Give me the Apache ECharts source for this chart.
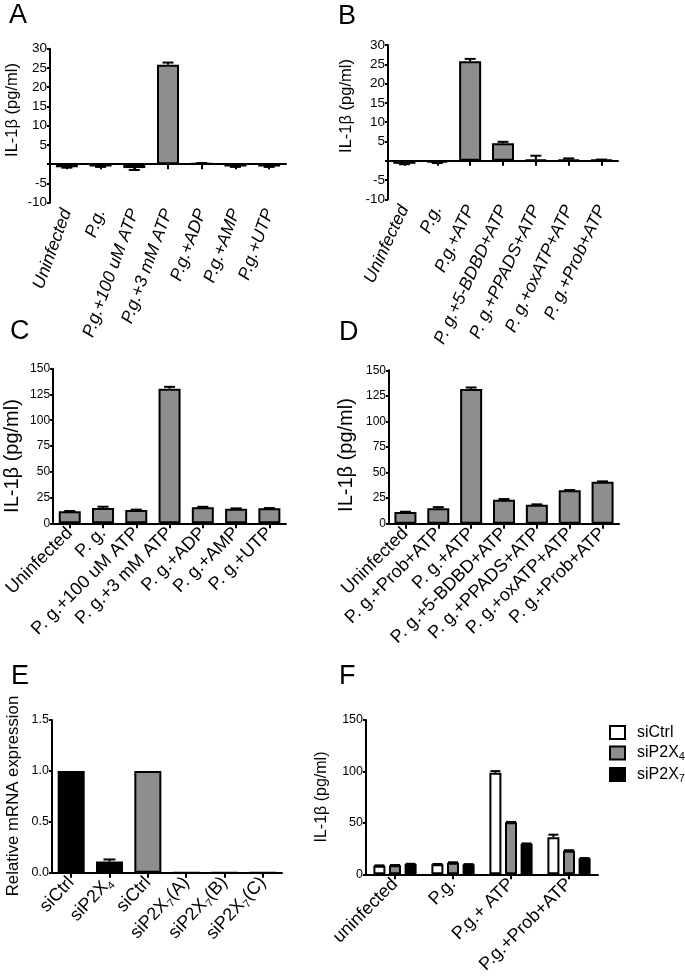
<!DOCTYPE html>
<html>
<head>
<meta charset="utf-8">
<script src="https://cdn.jsdelivr.net/npm/echarts@6/dist/echarts.min.js"></script>
<style>html,body{margin:0;padding:0;background:#fff;}#c{width:685px;height:978px;}</style>
</head>
<body>
<div id="c"></div>
<script>
// ---------- data ----------
const catsA = ['Uninfected','P.g.','P.g.+100 uM ATP','P.g.+3 mM ATP','P.g.+ADP','P.g.+AMP','P.g.+UTP'];
const valsA = [-0.8,-0.6,-1.0,25.8,0.2,-0.6,-0.6];
const errA  = [0.1,0.1,0.5,0.6,0.1,0.1,0.1];

const catsB = ['Uninfected','P.g.','P.g.+ATP','P. g.+5-BDBD+ATP','P. g.+PPADS+ATP','P. g.+oxATP+ATP','P. g.+Prob+ATP'];
const valsB = [-0.8,-0.5,25.8,4.5,0.3,0.3,0.2];
const errB  = [0.1,0.1,0.6,0.4,1.0,0.3,0.1];

const catsC = ['Uninfected','P. g.','P. g.+100 uM ATP','P. g.+3 mM ATP','P. g.+ADP','P. g.+AMP','P. g.+UTP'];
const valsC = [11.6,14.9,12.9,130.6,15.5,14.2,14.5];
const errC  = [0.3,1.2,0.4,1.8,0.5,0.3,0.3];

const catsD = ['Uninfected','P. g.+Prob+ATP','P. g.+ATP','P. g.+5-BDBD+ATP','P. g.+PPADS+ATP','P. g.+oxATP+ATP','P. g.+Prob+ATP'];
const valsD = [11.4,15.0,131.7,23.5,18.6,32.6,41.1];
const errD  = [0.3,1.2,1.5,0.6,0.3,0.3,0.3];

const catsE = ['siCtrl','siP2X4','siCtrl','siP2X7(A)','siP2X7(B)','siP2X7(C)'];
const valsE = [1.0,0.11,1.0,0,0,0];
const errE  = [0,0.02,0,0,0,0];

const catsF = ['uninfected','P.g.','P.g.+ ATP','P.g.+Prob+ATP'];
const seriesNamesF = ['siCtrl','siP2X4','siP2X7'];
const siCtrlF = [8.4,9.7,98.8,36.0];
const siP2X4F = [8.7,11.3,50.5,23.0];
const siP2X7F = [10.0,9.7,29.8,15.5];
const errCtrlF = [0.3,0.3,1.5,2.5];
const errP2X4F = [0.3,0.4,0.4,0.4];
const errP2X7F = [0.2,0.2,0.2,0.3];

const yTitleIL = 'IL-1β (pg/ml)';
const yTitleE = 'Relative mRNA expression';

// ---------- styles ----------
const FONT = '"Liberation Sans", Arial, Helvetica, sans-serif';
const GRAY = '#8e8e8e';
const eColors = ['#000','#000',GRAY,GRAY,GRAY,GRAY];
const fColors = ['#ffffff',GRAY,'#000'];

const grids = [
  {left:50,  top:48.7,  width:236, height:154},
  {left:388, top:45,    width:230, height:154.3},
  {left:49,  top:368.7, width:237, height:154.6},
  {left:389, top:370.3, width:230, height:153.4},
  {left:52,  top:720,   width:230, height:152.7},
  {left:366, top:720,   width:232, height:154.3}
];

const subRich = {
  sub: {fontSize: 11, fontFamily: FONT, color:'#000', verticalAlign:'bottom', lineHeight: 22}
};
function subFmt(v){ return String(v).replace(/^siP2X(\d)/, 'siP2X{sub|$1}'); }

function xAxis(gi, cats, rotate, italic, fs, fmt){
  return {
    type:'category', gridIndex:gi, data:cats,
    axisLine:{show:true, onZero:true, lineStyle:{color:'#000', width:2}},
    axisTick:{show:true, alignWithLabel:true, length:5, lineStyle:{color:'#000', width:2}},
    axisLabel:{interval:0, rotate:rotate, margin:7, color:'#000', fontSize:fs, fontFamily:FONT,
      fontStyle: italic ? 'italic' : 'normal', lineHeight: 20,
      formatter: fmt || undefined, rich: fmt ? subRich : undefined},
    splitLine:{show:false}
  };
}
function yAxis(gi, min, max, interval, fs, fmt){
  return {
    type:'value', gridIndex:gi, min:min, max:max, interval:interval,
    axisLine:{show:true, lineStyle:{color:'#000', width:2}},
    axisTick:{show:true, length:3, lineStyle:{color:'#000', width:2}},
    axisLabel:{margin:3, color:'#000', fontSize:fs, fontFamily:FONT, formatter:fmt},
    splitLine:{show:false}
  };
}
const hideZero = v => v === 0 ? '' : String(v);

function barSeries(gi, vals, color, bw, name){
  return {
    type:'bar', name:name, xAxisIndex:gi, yAxisIndex:gi, data:vals, barWidth:bw,
    itemStyle:{color:color, borderColor:'#000', borderWidth:2}, silent:true
  };
}
function errSeries(gi, vals, errs, cap, offset){
  return {
    type:'custom', xAxisIndex:gi, yAxisIndex:gi, silent:true, z:5,
    data: vals.map((v,i)=>[i, v, errs[i]]),
    renderItem: function(params, api){
      const x = api.value(0), v = api.value(1), e = api.value(2);
      if (!e) return null;
      const end = v < 0 ? v - e : v + e;
      const p0 = api.coord([x, v]);
      const p1 = api.coord([x, end]);
      const cx = p0[0] + (offset || 0);
      return {type:'group', children:[
        {type:'line', shape:{x1:cx, y1:p0[1], x2:cx, y2:p1[1]}, style:{stroke:'#000', lineWidth:2}},
        {type:'line', shape:{x1:cx-cap/2, y1:p1[1], x2:cx+cap/2, y2:p1[1]}, style:{stroke:'#000', lineWidth:2}}
      ]};
    }
  };
}

const series = [
  barSeries(0, valsA, GRAY, 22), errSeries(0, valsA, errA, 11),
  barSeries(1, valsB, GRAY, 22), errSeries(1, valsB, errB, 11),
  barSeries(2, valsC, GRAY, 22), errSeries(2, valsC, errC, 11),
  barSeries(3, valsD, GRAY, 22), errSeries(3, valsD, errD, 11),
  barSeries(4, valsE.map((v,i)=>({value:v, itemStyle:{color:eColors[i]}})), GRAY, 27),
  errSeries(4, valsE, errE, 12)
];
const fVals = [siCtrlF, siP2X4F, siP2X7F];
const fErrs = [errCtrlF, errP2X4F, errP2X7F];
const fBW = 12, fGap = 0.3;
fVals.forEach((vals, k) => {
  const s = barSeries(5, vals, fColors[k], fBW, seriesNamesF[k]);
  s.barGap = (fGap*100) + '%';
  series.push(s);
});
fVals.forEach((vals, k) => {
  series.push(errSeries(5, vals, fErrs[k], 10, (k-1)*fBW*(1+fGap)));
});

const letters = [['A',9,16],['B',338,17],['C',10,332],['D',339,333],['E',11,677],['F',339,677]];
const ytitles = [[yTitleIL,12.5,110,16.5],[yTitleIL,346,106,16.5],[yTitleIL,12.5,456,20],[yTitleIL,346,455,20],[yTitleE,13,796,16.8],[yTitleIL,322,797,16]];

const graphic = [];
letters.forEach(l => graphic.push({type:'text', x:l[1], y:l[2], style:{text:l[0], font:'27px '+FONT, fill:'#000', textAlign:'left', textVerticalAlign:'middle'}}));
ytitles.forEach(t => graphic.push({type:'text', x:t[1], y:t[2], rotation:Math.PI/2, style:{text:t[0], font:t[3]+'px '+FONT, fill:'#000', textAlign:'center', textVerticalAlign:'middle'}}));

const option = {
  animation:false,
  backgroundColor:'#fff',
  grid: grids.map(g => Object.assign({containLabel:false}, g)),
  xAxis: [
    xAxis(0, catsA, 70, true, 17.5),
    xAxis(1, catsB, 65, true, 17.5),
    xAxis(2, catsC, 45, false, 18),
    xAxis(3, catsD, 45, false, 18),
    xAxis(4, catsE, 47, false, 18, subFmt),
    xAxis(5, catsF, 45, false, 18)
  ],
  yAxis: [
    yAxis(0, -10, 30, 5, 13.5, hideZero),
    yAxis(1, -10, 30, 5, 13.5, hideZero),
    yAxis(2, 0, 150, 25, 12),
    yAxis(3, 0, 150, 25, 12),
    yAxis(4, 0, 1.5, 0.5, 12.5, v => v.toFixed(1)),
    yAxis(5, 0, 150, 50, 12.5)
  ],
  legend: {
    data: seriesNamesF, orient:'vertical', left:609, top:724, itemWidth:15, itemHeight:13, itemGap:2.5,
    icon:'rect', selectedMode:false, padding:0,
    itemStyle:{borderColor:'#000', borderWidth:2},
    formatter: subFmt,
    textStyle:{fontSize:16, fontFamily:FONT, color:'#000', lineHeight:17, padding:[0,0,0,7],
      rich:{sub:{fontSize:11, fontFamily:FONT, color:'#000', verticalAlign:'bottom', lineHeight:19}}}
  },
  graphic: graphic,
  series: series
};
const chart = echarts.init(document.getElementById('c'), null, {renderer:'canvas'});
chart.setOption(option);
</script>
</body>
</html>
